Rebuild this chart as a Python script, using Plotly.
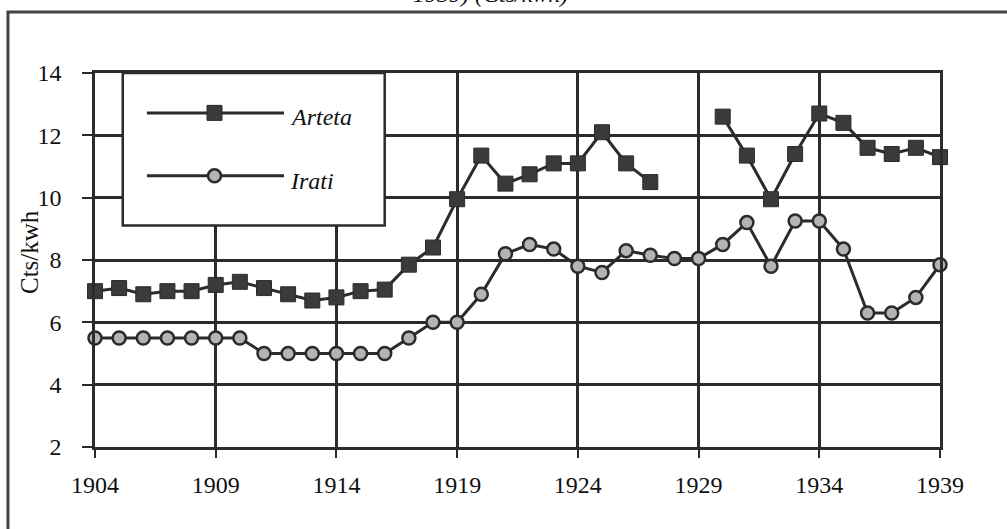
import plotly.graph_objects as go

years = [1904, 1905, 1906, 1907, 1908, 1909, 1910, 1911, 1912, 1913, 1914, 1915,
         1916, 1917, 1918, 1919, 1920, 1921, 1922, 1923, 1924, 1925, 1926, 1927,
         1928, 1929, 1930, 1931, 1932, 1933, 1934, 1935, 1936, 1937, 1938, 1939]
arteta = [7.0, 7.1, 6.9, 7.0, 7.0, 7.2, 7.3, 7.1, 6.9, 6.7, 6.8, 7.0,
          7.05, 7.85, 8.4, 9.95, 11.35, 10.45, 10.75, 11.1, 11.1, 12.1, 11.1, 10.5,
          None, None, 12.6, 11.35, 9.95, 11.4, 12.7, 12.4, 11.6, 11.4, 11.6, 11.3]
irati = [5.5, 5.5, 5.5, 5.5, 5.5, 5.5, 5.5, 5.0, 5.0, 5.0, 5.0, 5.0,
         5.0, 5.5, 6.0, 6.0, 6.9, 8.2, 8.5, 8.35, 7.8, 7.6, 8.3, 8.15,
         8.05, 8.05, 8.5, 9.2, 7.8, 9.25, 9.25, 8.35, 6.3, 6.3, 6.8, 7.85]
series_names = ["Arteta", "Irati"]
x_ticks = [1904, 1909, 1914, 1919, 1924, 1929, 1934, 1939]
y_ticks = [2, 4, 6, 8, 10, 12, 14]
y_title = "Cts/kwh"
top_title = "1939) (Cts/kwh)"

FONT = "Liberation Serif, Times New Roman, serif"
INK = "#2b2b2b"
SQ = dict(symbol="square", size=15, color="#3a3a3a", line=dict(color=INK, width=1))
CI = dict(symbol="circle", size=13, color="#b4b4b4", line=dict(color=INK, width=2.5))

fig = go.Figure()
fig.add_trace(go.Scatter(
    x=years, y=arteta, name=series_names[0], mode="lines+markers",
    line=dict(color=INK, width=3), marker=SQ,
    connectgaps=False, showlegend=False, cliponaxis=False))
fig.add_trace(go.Scatter(
    x=years, y=irati, name=series_names[1], mode="lines+markers",
    line=dict(color=INK, width=3), marker=CI,
    showlegend=False, cliponaxis=False))

# Legend sample markers (drawn above the white legend box)
fig.add_trace(go.Scatter(x=[1908.95], y=[12.72], mode="markers", showlegend=False,
                         marker=SQ, cliponaxis=False, hoverinfo="skip"))
fig.add_trace(go.Scatter(x=[1908.95], y=[10.70], mode="markers", showlegend=False,
                         marker=CI, cliponaxis=False, hoverinfo="skip"))

lx0, lx1, ly0, ly1 = 1905.15, 1916.0, 9.11, 14.0
shapes = [
    dict(type="rect", xref="x", yref="y", x0=lx0, x1=lx1, y0=ly0, y1=ly1,
         fillcolor="white", line=dict(color=INK, width=2.5), layer="between"),
    dict(type="line", xref="x", yref="y", x0=1906.15, x1=1911.83, y0=12.72, y1=12.72,
         line=dict(color=INK, width=3), layer="between"),
    dict(type="line", xref="x", yref="y", x0=1906.15, x1=1911.83, y0=10.70, y1=10.70,
         line=dict(color=INK, width=3), layer="between"),
    # outer frame
    dict(type="rect", xref="paper", yref="paper", x0=-0.103, x1=1.095, y0=-0.262, y1=1.163,
         line=dict(color="#444", width=3), fillcolor="rgba(0,0,0,0)", layer="above"),
]

annotations = [
    dict(text="<i>" + series_names[0] + "</i>", x=1912.0, y=12.6, xref="x", yref="y",
         xanchor="left", yanchor="middle", showarrow=False,
         font=dict(family=FONT, size=24, color="#111")),
    dict(text="<i>" + series_names[1] + "</i>", x=1912.0, y=10.55, xref="x", yref="y",
         xanchor="left", yanchor="middle", showarrow=False,
         font=dict(family=FONT, size=24, color="#111")),
    dict(text=y_title, x=(29 - 95) / 845, y=(447 - 252) / 374, xref="paper", yref="paper",
         textangle=-90, showarrow=False, xanchor="center", yanchor="middle",
         font=dict(family=FONT, size=25, color="#111")),
    dict(text="<i>" + top_title + "</i>", x=(490 - 95) / 845, y=(447 + 6) / 374,
         xref="paper", yref="paper", showarrow=False, xanchor="center", yanchor="middle",
         font=dict(family=FONT, size=24, color="#111")),
]

fig.update_layout(
    shapes=shapes, annotations=annotations,
    width=1007, height=529, autosize=False,
    margin=dict(l=95, r=67, t=73, b=82),
    paper_bgcolor="white", plot_bgcolor="white",
    font=dict(family=FONT, size=23, color="#111"),
    xaxis=dict(range=[1904, 1939], tickvals=x_ticks, ticktext=[str(v) for v in x_ticks],
               showgrid=True, gridcolor=INK, gridwidth=2.5, zeroline=False,
               showline=True, linecolor=INK, linewidth=2.5, mirror=True, automargin=False,
               ticks="outside", ticklen=8, tickwidth=2, tickcolor=INK,
               ticklabelstandoff=6, tickfont=dict(family=FONT, size=24, color="#111")),
    yaxis=dict(range=[2, 14], tickvals=y_ticks, showgrid=True, gridcolor=INK,
               gridwidth=2.5, zeroline=False, showline=True, linecolor=INK, linewidth=2.5,
               mirror=True, automargin=False, ticks="outside", ticklen=10, tickwidth=2,
               tickcolor=INK, ticklabelstandoff=16,
               tickfont=dict(family=FONT, size=24, color="#111")),
)

fig.write_html("out.html", config={"displayModeBar": False},
               post_script="document.body.style.margin='0';")
